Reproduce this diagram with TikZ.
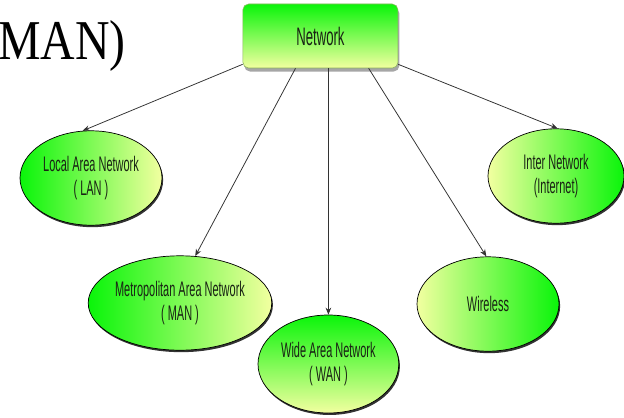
\documentclass[tikz,border=0pt]{standalone}
\usepackage{fontspec}
\setmainfont{Liberation Serif}
\newfontfamily\narrowsans[FakeStretch=0.52]{Liberation Sans}
\newfontfamily\slideserif[FakeStretch=0.85]{Liberation Serif}
\usetikzlibrary{shapes.geometric, arrows.meta, positioning, calc, shadows}
\definecolor{leafgreen}{RGB}{10, 245, 10}
\definecolor{midgreen}{RGB}{100, 252, 70}
\definecolor{paleyellow}{RGB}{242, 255, 160}
\definecolor{boxedge}{RGB}{140, 180, 95}
\definecolor{darktext}{RGB}{25, 35, 20}

\begin{document}
\begin{tikzpicture}[
    node distance=1cm, on grid,
    root/.style={rectangle, draw=boxedge, rounded corners=4pt, top color=leafgreen, bottom color=paleyellow,
                 minimum width=3.875cm, minimum height=1.6cm, text=darktext,
                 font=\narrowsans\fontsize{18}{20}\selectfont,
                 drop shadow={shadow xshift=1pt, shadow yshift=-2.5pt, fill=black!35, opacity=1}},
    kind/.style={ellipse, draw=black, line width=0.5pt, inner sep=0pt, align=center, text=darktext,
                 minimum width=3.55cm, minimum height=2.36cm,
                 font=\narrowsans\fontsize{15}{17.5}\selectfont,
                 drop shadow={shadow xshift=0.8pt, shadow yshift=-1.4pt, fill=black, opacity=0.8}},
    arrow/.style={-{Stealth[length=5pt, width=4pt]}, line width=0.55pt, black!80}
]
\useasboundingbox (0,0) rectangle (15.6,-10.425);

% Slide title (cut off)
\node[anchor=base west, inner sep=0pt, font=\slideserif\fontsize{40}{40}\selectfont] (title) at (-0.05,-1.5) {MAN)};

% Root
\node[root] (net) at (8.01,-0.9) {Network};

% Kinds of network
\node[kind, left color=leafgreen, middle color=midgreen, right color=paleyellow, below left=3.55cm and 5.735cm of net] (lan) {Local Area Network\\( LAN )};
\node[kind, left color=leafgreen, middle color=midgreen, right color=paleyellow, minimum width=3.9cm, below left=6.675cm and 3.51cm of net] (man) {Metropolitan Area Network\\( MAN )};
\node[kind, top color=leafgreen, middle color=midgreen, bottom color=paleyellow, minimum width=3.52cm, minimum height=2.45cm, below right=8.2cm and 0.2cm of net] (wan) {Wide Area Network\\( WAN )};
\node[kind, left color=paleyellow, middle color=midgreen, right color=leafgreen, below right=6.7cm and 4.19cm of net] (wireless) {Wireless};
\node[kind, left color=paleyellow, middle color=midgreen, right color=leafgreen, minimum width=3.4cm, below right=3.5cm and 5.89cm of net] (internet) {Inter Network\\(Internet)};

% Arrows
\draw[arrow] (net.200) -- (lan.100);
\draw[arrow] ($(net.south west)!0.34!(net.south east)$) -- (man.72);
\draw[arrow] (wan.north |- net.south) -- (wan.north);
\draw[arrow] ($(net.south west)!0.81!(net.south east)$) -- (wireless.92);
\draw[arrow] (net.-20) -- (internet.88);

\end{tikzpicture}
\end{document}
